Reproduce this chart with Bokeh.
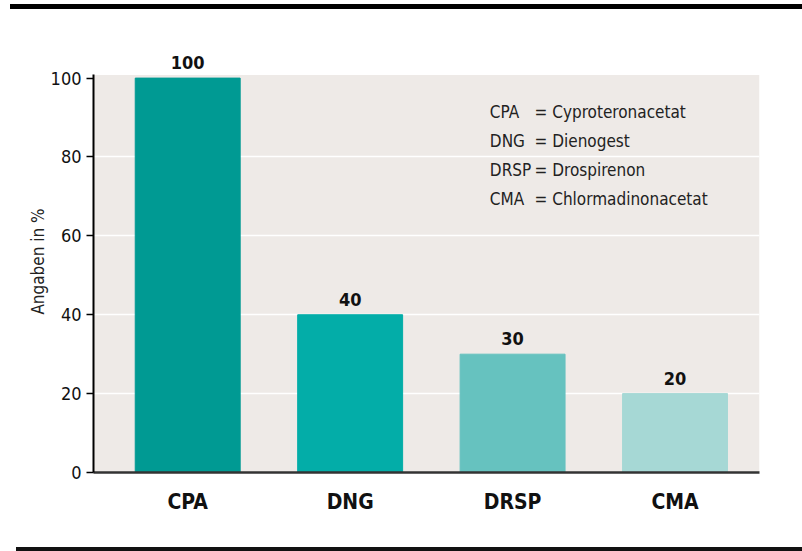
from bokeh.plotting import figure
from bokeh.models import (ColumnDataSource, Range1d, FixedTicker, LabelSet, Label,
                          BoxAnnotation, Div)
from bokeh.core.properties import value
from bokeh.layouts import column
from bokeh.embed import file_html
from bokeh.resources import INLINE

categories = ["CPA", "DNG", "DRSP", "CMA"]
values = [100, 40, 30, 20]
bar_colors = ["#009A93", "#03ADA8", "#66C2BF", "#A6D8D5"]
y_ticks = [0, 20, 40, 60, 80, 100]
grid_ticks = [20, 40, 60, 80]
legend_abbr = ["CPA", "DNG", "DRSP", "CMA"]
legend_names = ["= Cyproteronacetat", "= Dienogest", "= Drospirenon", "= Chlormadinonacetat"]

FONT = "DejaVu Sans Condensed"
Y_TOP = 100.8

xs = list(range(len(categories)))
src = ColumnDataSource(dict(x=xs, top=values, color=bar_colors,
                            label=[str(v) for v in values]))

p = figure(width=800, height=538, output_backend="svg", toolbar_location=None,
           x_range=Range1d(-0.58, 3.52), y_range=Range1d(0, 107),
           min_border_left=93, min_border_right=41, min_border_top=41, min_border_bottom=75)
p.outline_line_color = None
p.background_fill_color = "white"
p.border_fill_color = "white"

p.add_layout(BoxAnnotation(bottom=0, top=Y_TOP, fill_color="#EEEAE7", fill_alpha=1,
                           line_color=None, level="image"))

p.vbar(x="x", top="top", width=0.646, color="color", source=src)

labels = LabelSet(x="x", y="top", text="label", source=src, text_align="center",
                  text_baseline="bottom", y_offset=9, text_font_size="18px",
                  text_font_style="bold", text_color="#111111", text_font=value(FONT))
p.add_layout(labels)

# y axis
p.yaxis.ticker = FixedTicker(ticks=y_ticks)
p.yaxis.bounds = (0, Y_TOP)
p.yaxis.axis_line_color = "black"
p.yaxis.axis_line_width = 2
p.yaxis.major_tick_line_color = "black"
p.yaxis.major_tick_line_width = 1.5
p.yaxis.major_tick_out = 7
p.yaxis.major_tick_in = 0
p.yaxis.minor_tick_line_color = None
p.yaxis.major_label_text_font_size = "18px"
p.yaxis.major_label_text_font = FONT
p.yaxis.major_label_text_color = "#111111"
p.yaxis.axis_label = "Angaben in %"
p.yaxis.axis_label_text_font_size = "17px"
p.yaxis.axis_label_text_font_style = "normal"
p.yaxis.axis_label_text_font = FONT
p.yaxis.axis_label_text_color = "#222222"
p.yaxis.axis_label_standoff = 0

# x axis
p.xaxis.ticker = FixedTicker(ticks=xs)
p.xaxis.major_label_overrides = {i: c for i, c in enumerate(categories)}
p.xaxis.axis_line_color = "#333333"
p.xaxis.axis_line_width = 2.5
p.xaxis.major_tick_line_color = None
p.xaxis.minor_tick_line_color = None
p.xaxis.major_label_text_font_size = "21px"
p.xaxis.major_label_text_font_style = "bold"
p.xaxis.major_label_text_font = FONT
p.xaxis.major_label_text_color = "#111111"
p.xaxis.major_label_standoff = 11

p.xgrid.grid_line_color = None
p.ygrid.ticker = FixedTicker(ticks=grid_ticks)
p.ygrid.grid_line_color = "white"
p.ygrid.grid_line_width = 1.5
p.ygrid.level = "underlay"

# legend text block
for i, (a, n) in enumerate(zip(legend_abbr, legend_names)):
    yy = 91.4 - i * 7.36
    p.add_layout(Label(x=1.86, y=yy, text=a, text_font=FONT, text_font_size="17px",
                       text_baseline="middle", text_color="#222222"))
    p.add_layout(Label(x=2.135, y=yy, text=n, text_font=FONT, text_font_size="17px",
                       text_baseline="middle", text_color="#222222"))

top_rule = Div(width=792, height=5, margin=(4, 0, 0, 10),
               styles={"background-color": "black"})
bottom_rule = Div(width=786, height=4, margin=(0, 0, 0, 16),
                  styles={"background-color": "#111111"})

layout = column(top_rule, p, bottom_rule, spacing=0)
open("out.html", "w").write(file_html(layout, INLINE))
